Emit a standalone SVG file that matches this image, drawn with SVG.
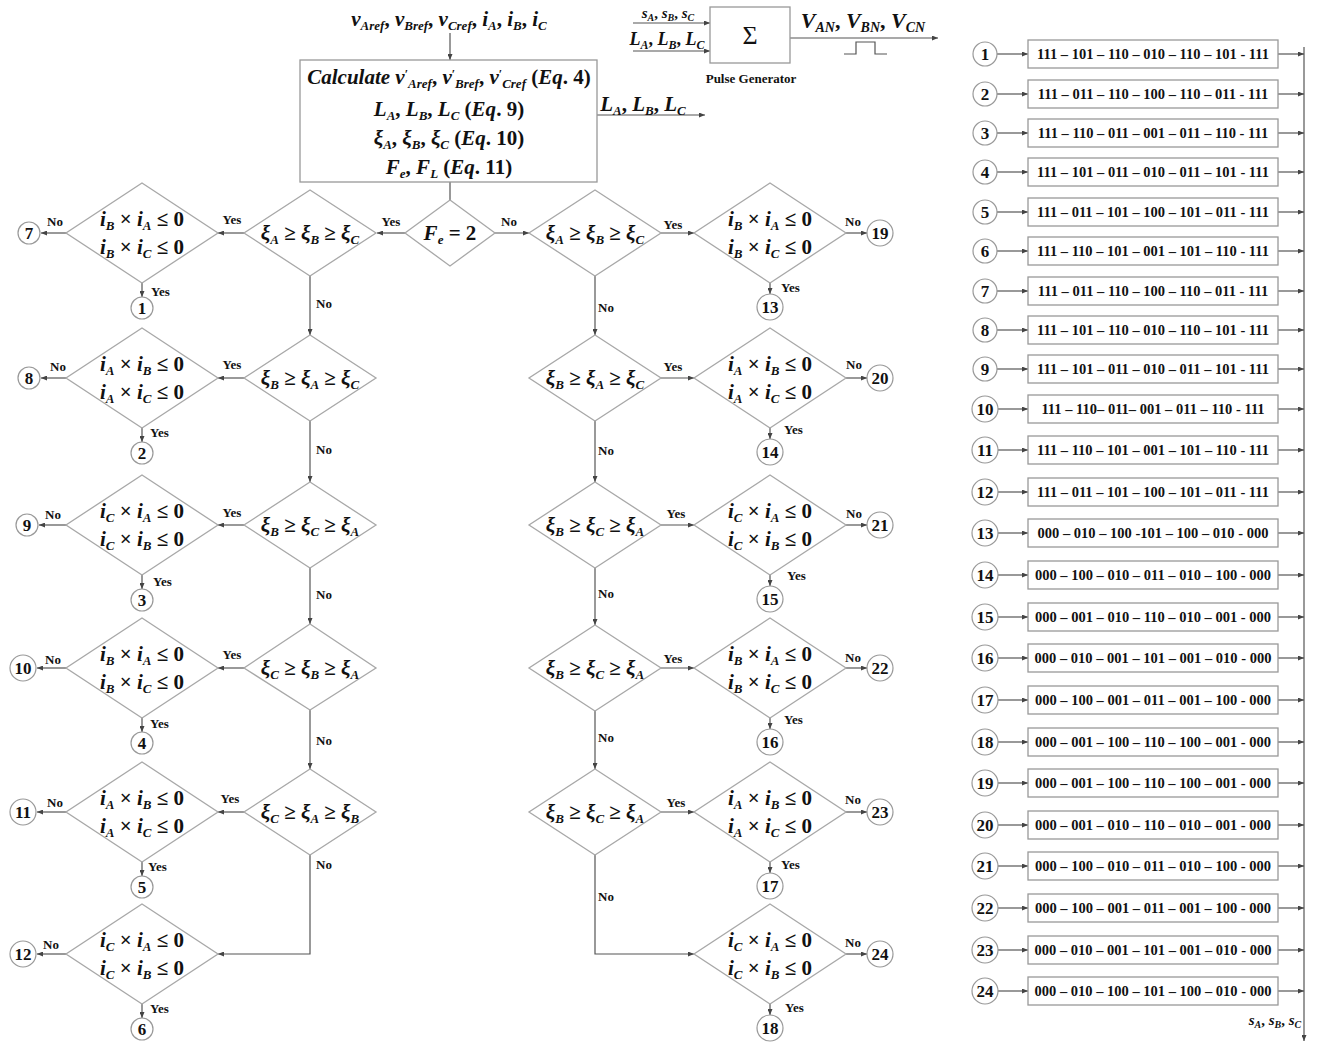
<svg xmlns="http://www.w3.org/2000/svg" width="1318" height="1045" viewBox="0 0 1318 1045">
<style>
.m{font-family:"Liberation Serif",serif;font-weight:bold;font-style:italic;font-size:21px;fill:#111}
.s{font-size:13px}
.u{font-style:normal}
.lb{font-family:"Liberation Serif",serif;font-weight:bold;font-size:13px;fill:#111}
.num{font-family:"Liberation Serif",serif;font-weight:bold;font-size:17px;fill:#111;text-anchor:middle}
.code{font-family:"Liberation Serif",serif;font-weight:bold;font-size:14.5px;fill:#111;text-anchor:middle}
.dia{fill:#fff;stroke:#a8a8a8;stroke-width:1.3}
.box{fill:#fff;stroke:#999;stroke-width:1.3}
.cir{fill:#fff;stroke:#999;stroke-width:1.2}
.ln{fill:none;stroke:#555;stroke-width:1.2}
.ar{fill:none;stroke:#555;stroke-width:1.2;marker-end:url(#ah)}
</style>
<defs>
<marker id="ah" markerWidth="6" markerHeight="5" refX="6" refY="2.5" orient="auto" markerUnits="userSpaceOnUse"><path d="M0,0 L6,2.5 L0,5 z" fill="#444"/></marker>
</defs>
<rect width="1318" height="1045" fill="#fff"/>

<g id="connectors">
<line class="ar" x1="450" y1="33" x2="450" y2="60"/>
<line class="ln" x1="450" y1="182" x2="450" y2="200"/>
<line class="ar" x1="597" y1="115" x2="705" y2="115"/>
<line class="ar" x1="633" y1="23" x2="710" y2="23"/>
<line class="ar" x1="633" y1="51" x2="710" y2="51"/>
<line class="ar" x1="790" y1="38" x2="938" y2="38"/>
<polyline class="ln" points="844,54 856,54 856,42 875,42 875,54 887,54"/>
<line class="ar" x1="405" y1="233" x2="377" y2="233"/>
<line class="ar" x1="495" y1="233" x2="529" y2="233"/>
<line class="ar" x1="310" y1="276" x2="310" y2="335"/>
<line class="ar" x1="310" y1="421" x2="310" y2="482"/>
<line class="ar" x1="310" y1="568" x2="310" y2="624"/>
<line class="ar" x1="310" y1="710" x2="310" y2="769"/>
<polyline class="ar" points="310,855 310,954 218,954"/>
<line class="ar" x1="244" y1="233" x2="218" y2="233"/>
<line class="ar" x1="244" y1="378" x2="218" y2="378"/>
<line class="ar" x1="244" y1="525" x2="218" y2="525"/>
<line class="ar" x1="244" y1="668" x2="218" y2="668"/>
<line class="ar" x1="244" y1="812" x2="218" y2="812"/>
<line class="ar" x1="66" y1="233" x2="41" y2="233"/>
<line class="ar" x1="66" y1="378" x2="41" y2="378"/>
<line class="ar" x1="66" y1="525" x2="39" y2="525"/>
<line class="ar" x1="66" y1="668" x2="37" y2="668"/>
<line class="ar" x1="66" y1="812" x2="37" y2="812"/>
<line class="ar" x1="66" y1="954" x2="37" y2="954"/>
<line class="ar" x1="142" y1="283" x2="142" y2="297"/>
<line class="ar" x1="142" y1="428" x2="142" y2="442"/>
<line class="ar" x1="142" y1="575" x2="142" y2="589"/>
<line class="ar" x1="142" y1="718" x2="142" y2="732"/>
<line class="ar" x1="142" y1="862" x2="142" y2="876"/>
<line class="ar" x1="142" y1="1004" x2="142" y2="1018"/>
<line class="ar" x1="595" y1="276" x2="595" y2="335"/>
<line class="ar" x1="595" y1="421" x2="595" y2="482"/>
<line class="ar" x1="595" y1="568" x2="595" y2="625"/>
<line class="ar" x1="595" y1="711" x2="595" y2="769"/>
<polyline class="ar" points="595,855 595,954 694,954"/>
<line class="ar" x1="661" y1="233" x2="694" y2="233"/>
<line class="ar" x1="661" y1="378" x2="694" y2="378"/>
<line class="ar" x1="661" y1="525" x2="694" y2="525"/>
<line class="ar" x1="661" y1="668" x2="694" y2="668"/>
<line class="ar" x1="661" y1="812" x2="694" y2="812"/>
<line class="ar" x1="846" y1="233" x2="867" y2="233"/>
<line class="ar" x1="846" y1="378" x2="867" y2="378"/>
<line class="ar" x1="846" y1="525" x2="867" y2="525"/>
<line class="ar" x1="846" y1="668" x2="867" y2="668"/>
<line class="ar" x1="846" y1="812" x2="867" y2="812"/>
<line class="ar" x1="846" y1="954" x2="867" y2="954"/>
<line class="ar" x1="770" y1="283" x2="770" y2="294"/>
<line class="ar" x1="770" y1="428" x2="770" y2="439"/>
<line class="ar" x1="770" y1="575" x2="770" y2="586"/>
<line class="ar" x1="770" y1="718" x2="770" y2="729"/>
<line class="ar" x1="770" y1="862" x2="770" y2="873"/>
<line class="ar" x1="770" y1="1004" x2="770" y2="1015"/>
<line class="ar" x1="1304" y1="47" x2="1304" y2="1041"/>
<g id="list-arrows">
<line class="ar" x1="997" y1="54" x2="1028" y2="54"/><line class="ar" x1="1278" y1="54" x2="1304" y2="54"/>
<line class="ar" x1="997" y1="94" x2="1028" y2="94"/><line class="ar" x1="1278" y1="94" x2="1304" y2="94"/>
<line class="ar" x1="997" y1="133" x2="1028" y2="133"/><line class="ar" x1="1278" y1="133" x2="1304" y2="133"/>
<line class="ar" x1="997" y1="172" x2="1028" y2="172"/><line class="ar" x1="1278" y1="172" x2="1304" y2="172"/>
<line class="ar" x1="997" y1="212" x2="1028" y2="212"/><line class="ar" x1="1278" y1="212" x2="1304" y2="212"/>
<line class="ar" x1="997" y1="251" x2="1028" y2="251"/><line class="ar" x1="1278" y1="251" x2="1304" y2="251"/>
<line class="ar" x1="997" y1="291" x2="1028" y2="291"/><line class="ar" x1="1278" y1="291" x2="1304" y2="291"/>
<line class="ar" x1="997" y1="330" x2="1028" y2="330"/><line class="ar" x1="1278" y1="330" x2="1304" y2="330"/>
<line class="ar" x1="997" y1="369" x2="1028" y2="369"/><line class="ar" x1="1278" y1="369" x2="1304" y2="369"/>
<line class="ar" x1="998" y1="409" x2="1028" y2="409"/><line class="ar" x1="1278" y1="409" x2="1304" y2="409"/>
<line class="ar" x1="998" y1="450" x2="1028" y2="450"/><line class="ar" x1="1278" y1="450" x2="1304" y2="450"/>
<line class="ar" x1="998" y1="492" x2="1028" y2="492"/><line class="ar" x1="1278" y1="492" x2="1304" y2="492"/>
<line class="ar" x1="998" y1="533" x2="1028" y2="533"/><line class="ar" x1="1278" y1="533" x2="1304" y2="533"/>
<line class="ar" x1="998" y1="575" x2="1028" y2="575"/><line class="ar" x1="1278" y1="575" x2="1304" y2="575"/>
<line class="ar" x1="998" y1="617" x2="1028" y2="617"/><line class="ar" x1="1278" y1="617" x2="1304" y2="617"/>
<line class="ar" x1="998" y1="658" x2="1028" y2="658"/><line class="ar" x1="1278" y1="658" x2="1304" y2="658"/>
<line class="ar" x1="998" y1="700" x2="1028" y2="700"/><line class="ar" x1="1278" y1="700" x2="1304" y2="700"/>
<line class="ar" x1="998" y1="742" x2="1028" y2="742"/><line class="ar" x1="1278" y1="742" x2="1304" y2="742"/>
<line class="ar" x1="998" y1="783" x2="1028" y2="783"/><line class="ar" x1="1278" y1="783" x2="1304" y2="783"/>
<line class="ar" x1="998" y1="825" x2="1028" y2="825"/><line class="ar" x1="1278" y1="825" x2="1304" y2="825"/>
<line class="ar" x1="998" y1="866" x2="1028" y2="866"/><line class="ar" x1="1278" y1="866" x2="1304" y2="866"/>
<line class="ar" x1="998" y1="908" x2="1028" y2="908"/><line class="ar" x1="1278" y1="908" x2="1304" y2="908"/>
<line class="ar" x1="998" y1="950" x2="1028" y2="950"/><line class="ar" x1="1278" y1="950" x2="1304" y2="950"/>
<line class="ar" x1="998" y1="991" x2="1028" y2="991"/><line class="ar" x1="1278" y1="991" x2="1304" y2="991"/>
</g>
<g id="labels" class="lb">
<text x="391" y="226" text-anchor="middle">Yes</text>
<text x="509" y="226" text-anchor="middle">No</text>
<text x="232" y="224" text-anchor="middle">Yes</text>
<text x="232" y="369" text-anchor="middle">Yes</text>
<text x="232" y="517" text-anchor="middle">Yes</text>
<text x="232" y="659" text-anchor="middle">Yes</text>
<text x="230" y="803" text-anchor="middle">Yes</text>
<text x="55" y="226" text-anchor="middle">No</text>
<text x="58" y="371" text-anchor="middle">No</text>
<text x="53" y="519" text-anchor="middle">No</text>
<text x="53" y="664" text-anchor="middle">No</text>
<text x="55" y="807" text-anchor="middle">No</text>
<text x="51" y="949" text-anchor="middle">No</text>
<text x="151" y="296">Yes</text>
<text x="150" y="437">Yes</text>
<text x="153" y="586">Yes</text>
<text x="150" y="728">Yes</text>
<text x="148" y="871">Yes</text>
<text x="150" y="1013">Yes</text>
<text x="316" y="308">No</text>
<text x="316" y="454">No</text>
<text x="316" y="599">No</text>
<text x="316" y="745">No</text>
<text x="316" y="869">No</text>
<text x="673" y="229" text-anchor="middle">Yes</text>
<text x="673" y="371" text-anchor="middle">Yes</text>
<text x="676" y="518" text-anchor="middle">Yes</text>
<text x="673" y="663" text-anchor="middle">Yes</text>
<text x="676" y="807" text-anchor="middle">Yes</text>
<text x="853" y="226" text-anchor="middle">No</text>
<text x="854" y="369" text-anchor="middle">No</text>
<text x="854" y="518" text-anchor="middle">No</text>
<text x="853" y="662" text-anchor="middle">No</text>
<text x="853" y="804" text-anchor="middle">No</text>
<text x="853" y="947" text-anchor="middle">No</text>
<text x="781" y="292">Yes</text>
<text x="784" y="434">Yes</text>
<text x="787" y="580">Yes</text>
<text x="784" y="724">Yes</text>
<text x="781" y="869">Yes</text>
<text x="785" y="1012">Yes</text>
<text x="598" y="312">No</text>
<text x="598" y="455">No</text>
<text x="598" y="598">No</text>
<text x="598" y="742">No</text>
<text x="598" y="901">No</text>
</g>
</g>

<g id="inputs">
<text class="m" x="449" y="26" text-anchor="middle">v<tspan class="s" dy="4">Aref</tspan><tspan class="u" dy="-4">, </tspan>v<tspan class="s" dy="4">Bref</tspan><tspan class="u" dy="-4">, </tspan>v<tspan class="s" dy="4">Cref</tspan><tspan class="u" dy="-4">, </tspan>i<tspan class="s" dy="4">A</tspan><tspan class="u" dy="-4">, </tspan>i<tspan class="s" dy="4">B</tspan><tspan class="u" dy="-4">, </tspan>i<tspan class="s" dy="4">C</tspan></text>
</g>

<g id="calc">
<rect class="box" x="300" y="60" width="297" height="122"/>
<text class="m" x="449" y="84" text-anchor="middle">Calculate v<tspan class="u" style="font-size:12px" dy="-6">′</tspan><tspan class="s" dy="10">Aref</tspan><tspan class="u" dy="-4">, </tspan>v<tspan class="u" style="font-size:12px" dy="-6">′</tspan><tspan class="s" dy="10">Bref</tspan><tspan class="u" dy="-4">, </tspan>v<tspan class="u" style="font-size:12px" dy="-6">′</tspan><tspan class="s" dy="10">Cref</tspan><tspan class="u" dy="-4"> (</tspan>Eq<tspan class="u">. 4)</tspan></text>
<text class="m" x="449" y="116" text-anchor="middle">L<tspan class="s" dy="4">A</tspan><tspan class="u" dy="-4">, </tspan>L<tspan class="s" dy="4">B</tspan><tspan class="u" dy="-4">, </tspan>L<tspan class="s" dy="4">C</tspan><tspan class="u" dy="-4"> (</tspan>Eq<tspan class="u">. 9)</tspan></text>
<text class="m" x="449" y="145" text-anchor="middle">ξ<tspan class="s" dy="4">A</tspan><tspan class="u" dy="-4">, </tspan>ξ<tspan class="s" dy="4">B</tspan><tspan class="u" dy="-4">, </tspan>ξ<tspan class="s" dy="4">C</tspan><tspan class="u" dy="-4"> (</tspan>Eq<tspan class="u">. 10)</tspan></text>
<text class="m" x="449" y="174" text-anchor="middle">F<tspan class="s" dy="4">e</tspan><tspan class="u" dy="-4">, </tspan>F<tspan class="s" dy="4">L</tspan><tspan class="u" dy="-4"> (</tspan>Eq<tspan class="u">. 11)</tspan></text>
</g>

<g id="lout">
<text class="m" x="643" y="111" text-anchor="middle">L<tspan class="s" dy="4">A</tspan><tspan class="u" dy="-4">, </tspan>L<tspan class="s" dy="4">B</tspan><tspan class="u" dy="-4">, </tspan>L<tspan class="s" dy="4">C</tspan></text>
</g>

<g id="pulse">
<rect class="box" x="710" y="7" width="80" height="56"/>
<text x="750" y="44" text-anchor="middle" style="font-family:'Liberation Serif',serif;font-size:26px;fill:#111">Σ</text>
<text class="m" x="668" y="18" text-anchor="middle" style="font-size:15px">s<tspan style="font-size:10px" dy="3">A</tspan><tspan class="u" dy="-3">, </tspan>s<tspan style="font-size:10px" dy="3">B</tspan><tspan class="u" dy="-3">, </tspan>s<tspan style="font-size:10px" dy="3">C</tspan></text>
<text class="m" x="667" y="45" text-anchor="middle" style="font-size:18px">L<tspan style="font-size:12px" dy="4">A</tspan><tspan class="u" dy="-4">, </tspan>L<tspan style="font-size:12px" dy="4">B</tspan><tspan class="u" dy="-4">, </tspan>L<tspan style="font-size:12px" dy="4">C</tspan></text>
<text class="m" x="863" y="28" text-anchor="middle" style="font-size:22px">V<tspan style="font-size:14px" dy="4">AN</tspan><tspan class="u" dy="-4">, </tspan>V<tspan style="font-size:14px" dy="4">BN</tspan><tspan class="u" dy="-4">, </tspan>V<tspan style="font-size:14px" dy="4">CN</tspan></text>
<text class="lb" x="751" y="83" text-anchor="middle">Pulse Generator</text>
</g>

<g id="fe">
<polygon class="dia" points="450,200 495,233 450,266 405,233"/>
<text class="m" x="450" y="240" text-anchor="middle">F<tspan class="s" dy="4">e</tspan><tspan class="u" dy="-4"> = 2</tspan></text>
</g>

<g id="lx1"><polygon class="dia" points="310,190 376,233 310,276 244,233"/>
<text class="m" x="310" y="240" text-anchor="middle">ξ<tspan class="s" dy="4">A</tspan><tspan class="u" dy="-4"> ≥ </tspan>ξ<tspan class="s" dy="4">B</tspan><tspan class="u" dy="-4"> ≥ </tspan>ξ<tspan class="s" dy="4">C</tspan></text></g>
<g id="lx2"><polygon class="dia" points="310,335 376,378 310,421 244,378"/>
<text class="m" x="310" y="385" text-anchor="middle">ξ<tspan class="s" dy="4">B</tspan><tspan class="u" dy="-4"> ≥ </tspan>ξ<tspan class="s" dy="4">A</tspan><tspan class="u" dy="-4"> ≥ </tspan>ξ<tspan class="s" dy="4">C</tspan></text></g>
<g id="lx3"><polygon class="dia" points="310,482 376,525 310,568 244,525"/>
<text class="m" x="310" y="532" text-anchor="middle">ξ<tspan class="s" dy="4">B</tspan><tspan class="u" dy="-4"> ≥ </tspan>ξ<tspan class="s" dy="4">C</tspan><tspan class="u" dy="-4"> ≥ </tspan>ξ<tspan class="s" dy="4">A</tspan></text></g>
<g id="lx4"><polygon class="dia" points="310,624 376,668 310,710 244,668"/>
<text class="m" x="310" y="675" text-anchor="middle">ξ<tspan class="s" dy="4">C</tspan><tspan class="u" dy="-4"> ≥ </tspan>ξ<tspan class="s" dy="4">B</tspan><tspan class="u" dy="-4"> ≥ </tspan>ξ<tspan class="s" dy="4">A</tspan></text></g>
<g id="lx5"><polygon class="dia" points="310,769 376,812 310,855 244,812"/>
<text class="m" x="310" y="819" text-anchor="middle">ξ<tspan class="s" dy="4">C</tspan><tspan class="u" dy="-4"> ≥ </tspan>ξ<tspan class="s" dy="4">A</tspan><tspan class="u" dy="-4"> ≥ </tspan>ξ<tspan class="s" dy="4">B</tspan></text></g>

<g id="mx1"><polygon class="dia" points="595,190 661,233 595,276 529,233"/>
<text class="m" x="595" y="240" text-anchor="middle">ξ<tspan class="s" dy="4">A</tspan><tspan class="u" dy="-4"> ≥ </tspan>ξ<tspan class="s" dy="4">B</tspan><tspan class="u" dy="-4"> ≥ </tspan>ξ<tspan class="s" dy="4">C</tspan></text></g>
<g id="mx2"><polygon class="dia" points="595,335 661,378 595,421 529,378"/>
<text class="m" x="595" y="385" text-anchor="middle">ξ<tspan class="s" dy="4">B</tspan><tspan class="u" dy="-4"> ≥ </tspan>ξ<tspan class="s" dy="4">A</tspan><tspan class="u" dy="-4"> ≥ </tspan>ξ<tspan class="s" dy="4">C</tspan></text></g>
<g id="mx3"><polygon class="dia" points="595,482 661,525 595,568 529,525"/>
<text class="m" x="595" y="532" text-anchor="middle">ξ<tspan class="s" dy="4">B</tspan><tspan class="u" dy="-4"> ≥ </tspan>ξ<tspan class="s" dy="4">C</tspan><tspan class="u" dy="-4"> ≥ </tspan>ξ<tspan class="s" dy="4">A</tspan></text></g>
<g id="mx4"><polygon class="dia" points="595,625 661,668 595,711 529,668"/>
<text class="m" x="595" y="675" text-anchor="middle">ξ<tspan class="s" dy="4">B</tspan><tspan class="u" dy="-4"> ≥ </tspan>ξ<tspan class="s" dy="4">C</tspan><tspan class="u" dy="-4"> ≥ </tspan>ξ<tspan class="s" dy="4">A</tspan></text></g>
<g id="mx5"><polygon class="dia" points="595,769 661,812 595,855 529,812"/>
<text class="m" x="595" y="819" text-anchor="middle">ξ<tspan class="s" dy="4">B</tspan><tspan class="u" dy="-4"> ≥ </tspan>ξ<tspan class="s" dy="4">C</tspan><tspan class="u" dy="-4"> ≥ </tspan>ξ<tspan class="s" dy="4">A</tspan></text></g>

<g id="lc1"><polygon class="dia" points="142,183 218,233 142,283 66,233"/>
<text class="m" x="142" y="226" text-anchor="middle">i<tspan class="s" dy="4">B</tspan><tspan class="u" dy="-4"> × </tspan>i<tspan class="s" dy="4">A</tspan><tspan class="u" dy="-4"> ≤ 0</tspan></text>
<text class="m" x="142" y="254" text-anchor="middle">i<tspan class="s" dy="4">B</tspan><tspan class="u" dy="-4"> × </tspan>i<tspan class="s" dy="4">C</tspan><tspan class="u" dy="-4"> ≤ 0</tspan></text></g>
<g id="lc2"><polygon class="dia" points="142,328 218,378 142,428 66,378"/>
<text class="m" x="142" y="371" text-anchor="middle">i<tspan class="s" dy="4">A</tspan><tspan class="u" dy="-4"> × </tspan>i<tspan class="s" dy="4">B</tspan><tspan class="u" dy="-4"> ≤ 0</tspan></text>
<text class="m" x="142" y="399" text-anchor="middle">i<tspan class="s" dy="4">A</tspan><tspan class="u" dy="-4"> × </tspan>i<tspan class="s" dy="4">C</tspan><tspan class="u" dy="-4"> ≤ 0</tspan></text></g>
<g id="lc3"><polygon class="dia" points="142,475 218,525 142,575 66,525"/>
<text class="m" x="142" y="518" text-anchor="middle">i<tspan class="s" dy="4">C</tspan><tspan class="u" dy="-4"> × </tspan>i<tspan class="s" dy="4">A</tspan><tspan class="u" dy="-4"> ≤ 0</tspan></text>
<text class="m" x="142" y="546" text-anchor="middle">i<tspan class="s" dy="4">C</tspan><tspan class="u" dy="-4"> × </tspan>i<tspan class="s" dy="4">B</tspan><tspan class="u" dy="-4"> ≤ 0</tspan></text></g>
<g id="lc4"><polygon class="dia" points="142,618 218,668 142,718 66,668"/>
<text class="m" x="142" y="661" text-anchor="middle">i<tspan class="s" dy="4">B</tspan><tspan class="u" dy="-4"> × </tspan>i<tspan class="s" dy="4">A</tspan><tspan class="u" dy="-4"> ≤ 0</tspan></text>
<text class="m" x="142" y="689" text-anchor="middle">i<tspan class="s" dy="4">B</tspan><tspan class="u" dy="-4"> × </tspan>i<tspan class="s" dy="4">C</tspan><tspan class="u" dy="-4"> ≤ 0</tspan></text></g>
<g id="lc5"><polygon class="dia" points="142,762 218,812 142,862 66,812"/>
<text class="m" x="142" y="805" text-anchor="middle">i<tspan class="s" dy="4">A</tspan><tspan class="u" dy="-4"> × </tspan>i<tspan class="s" dy="4">B</tspan><tspan class="u" dy="-4"> ≤ 0</tspan></text>
<text class="m" x="142" y="833" text-anchor="middle">i<tspan class="s" dy="4">A</tspan><tspan class="u" dy="-4"> × </tspan>i<tspan class="s" dy="4">C</tspan><tspan class="u" dy="-4"> ≤ 0</tspan></text></g>
<g id="lc6"><polygon class="dia" points="142,904 218,954 142,1004 66,954"/>
<text class="m" x="142" y="947" text-anchor="middle">i<tspan class="s" dy="4">C</tspan><tspan class="u" dy="-4"> × </tspan>i<tspan class="s" dy="4">A</tspan><tspan class="u" dy="-4"> ≤ 0</tspan></text>
<text class="m" x="142" y="975" text-anchor="middle">i<tspan class="s" dy="4">C</tspan><tspan class="u" dy="-4"> × </tspan>i<tspan class="s" dy="4">B</tspan><tspan class="u" dy="-4"> ≤ 0</tspan></text></g>

<g id="mc1"><polygon class="dia" points="770,183 846,233 770,283 694,233"/>
<text class="m" x="770" y="226" text-anchor="middle">i<tspan class="s" dy="4">B</tspan><tspan class="u" dy="-4"> × </tspan>i<tspan class="s" dy="4">A</tspan><tspan class="u" dy="-4"> ≤ 0</tspan></text>
<text class="m" x="770" y="254" text-anchor="middle">i<tspan class="s" dy="4">B</tspan><tspan class="u" dy="-4"> × </tspan>i<tspan class="s" dy="4">C</tspan><tspan class="u" dy="-4"> ≤ 0</tspan></text></g>
<g id="mc2"><polygon class="dia" points="770,328 846,378 770,428 694,378"/>
<text class="m" x="770" y="371" text-anchor="middle">i<tspan class="s" dy="4">A</tspan><tspan class="u" dy="-4"> × </tspan>i<tspan class="s" dy="4">B</tspan><tspan class="u" dy="-4"> ≤ 0</tspan></text>
<text class="m" x="770" y="399" text-anchor="middle">i<tspan class="s" dy="4">A</tspan><tspan class="u" dy="-4"> × </tspan>i<tspan class="s" dy="4">C</tspan><tspan class="u" dy="-4"> ≤ 0</tspan></text></g>
<g id="mc3"><polygon class="dia" points="770,475 846,525 770,575 694,525"/>
<text class="m" x="770" y="518" text-anchor="middle">i<tspan class="s" dy="4">C</tspan><tspan class="u" dy="-4"> × </tspan>i<tspan class="s" dy="4">A</tspan><tspan class="u" dy="-4"> ≤ 0</tspan></text>
<text class="m" x="770" y="546" text-anchor="middle">i<tspan class="s" dy="4">C</tspan><tspan class="u" dy="-4"> × </tspan>i<tspan class="s" dy="4">B</tspan><tspan class="u" dy="-4"> ≤ 0</tspan></text></g>
<g id="mc4"><polygon class="dia" points="770,618 846,668 770,718 694,668"/>
<text class="m" x="770" y="661" text-anchor="middle">i<tspan class="s" dy="4">B</tspan><tspan class="u" dy="-4"> × </tspan>i<tspan class="s" dy="4">A</tspan><tspan class="u" dy="-4"> ≤ 0</tspan></text>
<text class="m" x="770" y="689" text-anchor="middle">i<tspan class="s" dy="4">B</tspan><tspan class="u" dy="-4"> × </tspan>i<tspan class="s" dy="4">C</tspan><tspan class="u" dy="-4"> ≤ 0</tspan></text></g>
<g id="mc5"><polygon class="dia" points="770,762 846,812 770,862 694,812"/>
<text class="m" x="770" y="805" text-anchor="middle">i<tspan class="s" dy="4">A</tspan><tspan class="u" dy="-4"> × </tspan>i<tspan class="s" dy="4">B</tspan><tspan class="u" dy="-4"> ≤ 0</tspan></text>
<text class="m" x="770" y="833" text-anchor="middle">i<tspan class="s" dy="4">A</tspan><tspan class="u" dy="-4"> × </tspan>i<tspan class="s" dy="4">C</tspan><tspan class="u" dy="-4"> ≤ 0</tspan></text></g>
<g id="mc6"><polygon class="dia" points="770,904 846,954 770,1004 694,954"/>
<text class="m" x="770" y="947" text-anchor="middle">i<tspan class="s" dy="4">C</tspan><tspan class="u" dy="-4"> × </tspan>i<tspan class="s" dy="4">A</tspan><tspan class="u" dy="-4"> ≤ 0</tspan></text>
<text class="m" x="770" y="975" text-anchor="middle">i<tspan class="s" dy="4">C</tspan><tspan class="u" dy="-4"> × </tspan>i<tspan class="s" dy="4">B</tspan><tspan class="u" dy="-4"> ≤ 0</tspan></text></g>

<g id="c7"><circle class="cir" cx="29" cy="233" r="11"/><text class="num" x="29" y="239">7</text></g>
<g id="c8"><circle class="cir" cx="29" cy="378" r="11"/><text class="num" x="29" y="384">8</text></g>
<g id="c9"><circle class="cir" cx="27" cy="525" r="11"/><text class="num" x="27" y="531">9</text></g>
<g id="c10"><circle class="cir" cx="23" cy="668" r="13"/><text class="num" x="23" y="674">10</text></g>
<g id="c11"><circle class="cir" cx="23" cy="812" r="13"/><text class="num" x="23" y="818">11</text></g>
<g id="c12"><circle class="cir" cx="23" cy="954" r="13"/><text class="num" x="23" y="960">12</text></g>
<g id="c1"><circle class="cir" cx="142" cy="308" r="11"/><text class="num" x="142" y="314">1</text></g>
<g id="c2"><circle class="cir" cx="142" cy="453" r="11"/><text class="num" x="142" y="459">2</text></g>
<g id="c3"><circle class="cir" cx="142" cy="600" r="11"/><text class="num" x="142" y="606">3</text></g>
<g id="c4"><circle class="cir" cx="142" cy="743" r="11"/><text class="num" x="142" y="749">4</text></g>
<g id="c5"><circle class="cir" cx="142" cy="887" r="11"/><text class="num" x="142" y="893">5</text></g>
<g id="c6"><circle class="cir" cx="142" cy="1029" r="11"/><text class="num" x="142" y="1035">6</text></g>
<g id="c19"><circle class="cir" cx="880" cy="233" r="13"/><text class="num" x="880" y="239">19</text></g>
<g id="c20"><circle class="cir" cx="880" cy="378" r="13"/><text class="num" x="880" y="384">20</text></g>
<g id="c21"><circle class="cir" cx="880" cy="525" r="13"/><text class="num" x="880" y="531">21</text></g>
<g id="c22"><circle class="cir" cx="880" cy="668" r="13"/><text class="num" x="880" y="674">22</text></g>
<g id="c23"><circle class="cir" cx="880" cy="812" r="13"/><text class="num" x="880" y="818">23</text></g>
<g id="c24"><circle class="cir" cx="880" cy="954" r="13"/><text class="num" x="880" y="960">24</text></g>
<g id="c13"><circle class="cir" cx="770" cy="307" r="13"/><text class="num" x="770" y="313">13</text></g>
<g id="c14"><circle class="cir" cx="770" cy="452" r="13"/><text class="num" x="770" y="458">14</text></g>
<g id="c15"><circle class="cir" cx="770" cy="599" r="13"/><text class="num" x="770" y="605">15</text></g>
<g id="c16"><circle class="cir" cx="770" cy="742" r="13"/><text class="num" x="770" y="748">16</text></g>
<g id="c17"><circle class="cir" cx="770" cy="886" r="13"/><text class="num" x="770" y="892">17</text></g>
<g id="c18"><circle class="cir" cx="770" cy="1028" r="13"/><text class="num" x="770" y="1034">18</text></g>

<g id="r1"><circle class="cir" cx="985" cy="54" r="12"/><text class="num" x="985" y="60">1</text><rect class="box" x="1028" y="40" width="250" height="28"/><text class="code" x="1153" y="59">111 – 101 – 110 – 010 – 110 – 101 - 111</text></g>
<g id="r2"><circle class="cir" cx="985" cy="94" r="12"/><text class="num" x="985" y="100">2</text><rect class="box" x="1028" y="80" width="250" height="28"/><text class="code" x="1153" y="99">111 – 011 – 110 – 100 – 110 – 011 - 111</text></g>
<g id="r3"><circle class="cir" cx="985" cy="133" r="12"/><text class="num" x="985" y="139">3</text><rect class="box" x="1028" y="119" width="250" height="28"/><text class="code" x="1153" y="138">111 – 110 – 011 – 001 – 011 – 110 - 111</text></g>
<g id="r4"><circle class="cir" cx="985" cy="172" r="12"/><text class="num" x="985" y="178">4</text><rect class="box" x="1028" y="158" width="250" height="28"/><text class="code" x="1153" y="177">111 – 101 – 011 – 010 – 011 – 101 - 111</text></g>
<g id="r5"><circle class="cir" cx="985" cy="212" r="12"/><text class="num" x="985" y="218">5</text><rect class="box" x="1028" y="198" width="250" height="28"/><text class="code" x="1153" y="217">111 – 011 – 101 – 100 – 101 – 011 - 111</text></g>
<g id="r6"><circle class="cir" cx="985" cy="251" r="12"/><text class="num" x="985" y="257">6</text><rect class="box" x="1028" y="237" width="250" height="28"/><text class="code" x="1153" y="256">111 – 110 – 101 – 001 – 101 – 110 - 111</text></g>
<g id="r7"><circle class="cir" cx="985" cy="291" r="12"/><text class="num" x="985" y="297">7</text><rect class="box" x="1028" y="277" width="250" height="28"/><text class="code" x="1153" y="296">111 – 011 – 110 – 100 – 110 – 011 - 111</text></g>
<g id="r8"><circle class="cir" cx="985" cy="330" r="12"/><text class="num" x="985" y="336">8</text><rect class="box" x="1028" y="316" width="250" height="28"/><text class="code" x="1153" y="335">111 – 101 – 110 – 010 – 110 – 101 - 111</text></g>
<g id="r9"><circle class="cir" cx="985" cy="369" r="12"/><text class="num" x="985" y="375">9</text><rect class="box" x="1028" y="355" width="250" height="28"/><text class="code" x="1153" y="374">111 – 101 – 011 – 010 – 011 – 101 - 111</text></g>
<g id="r10"><circle class="cir" cx="985" cy="409" r="13"/><text class="num" x="985" y="415">10</text><rect class="box" x="1028" y="395" width="250" height="28"/><text class="code" x="1153" y="414">111 – 110– 011– 001 – 011 – 110 - 111</text></g>
<g id="r11"><circle class="cir" cx="985" cy="450" r="13"/><text class="num" x="985" y="456">11</text><rect class="box" x="1028" y="436" width="250" height="28"/><text class="code" x="1153" y="455">111 – 110 – 101 – 001 – 101 – 110 - 111</text></g>
<g id="r12"><circle class="cir" cx="985" cy="492" r="13"/><text class="num" x="985" y="498">12</text><rect class="box" x="1028" y="478" width="250" height="28"/><text class="code" x="1153" y="497">111 – 011 – 101 – 100 – 101 – 011 - 111</text></g>
<g id="r13"><circle class="cir" cx="985" cy="533" r="13"/><text class="num" x="985" y="539">13</text><rect class="box" x="1028" y="519" width="250" height="28"/><text class="code" x="1153" y="538">000 – 010 – 100 -101 – 100 – 010 - 000</text></g>
<g id="r14"><circle class="cir" cx="985" cy="575" r="13"/><text class="num" x="985" y="581">14</text><rect class="box" x="1028" y="561" width="250" height="28"/><text class="code" x="1153" y="580">000 – 100 – 010 – 011 – 010 – 100 - 000</text></g>
<g id="r15"><circle class="cir" cx="985" cy="617" r="13"/><text class="num" x="985" y="623">15</text><rect class="box" x="1028" y="603" width="250" height="28"/><text class="code" x="1153" y="622">000 – 001 – 010 – 110 – 010 – 001 - 000</text></g>
<g id="r16"><circle class="cir" cx="985" cy="658" r="13"/><text class="num" x="985" y="664">16</text><rect class="box" x="1028" y="644" width="250" height="28"/><text class="code" x="1153" y="663">000 – 010 – 001 – 101 – 001 – 010 - 000</text></g>
<g id="r17"><circle class="cir" cx="985" cy="700" r="13"/><text class="num" x="985" y="706">17</text><rect class="box" x="1028" y="686" width="250" height="28"/><text class="code" x="1153" y="705">000 – 100 – 001 – 011 – 001 – 100 - 000</text></g>
<g id="r18"><circle class="cir" cx="985" cy="742" r="13"/><text class="num" x="985" y="748">18</text><rect class="box" x="1028" y="728" width="250" height="28"/><text class="code" x="1153" y="747">000 – 001 – 100 – 110 – 100 – 001 - 000</text></g>
<g id="r19"><circle class="cir" cx="985" cy="783" r="13"/><text class="num" x="985" y="789">19</text><rect class="box" x="1028" y="769" width="250" height="28"/><text class="code" x="1153" y="788">000 – 001 – 100 – 110 – 100 – 001 - 000</text></g>
<g id="r20"><circle class="cir" cx="985" cy="825" r="13"/><text class="num" x="985" y="831">20</text><rect class="box" x="1028" y="811" width="250" height="28"/><text class="code" x="1153" y="830">000 – 001 – 010 – 110 – 010 – 001 - 000</text></g>
<g id="r21"><circle class="cir" cx="985" cy="866" r="13"/><text class="num" x="985" y="872">21</text><rect class="box" x="1028" y="852" width="250" height="28"/><text class="code" x="1153" y="871">000 – 100 – 010 – 011 – 010 – 100 - 000</text></g>
<g id="r22"><circle class="cir" cx="985" cy="908" r="13"/><text class="num" x="985" y="914">22</text><rect class="box" x="1028" y="894" width="250" height="28"/><text class="code" x="1153" y="913">000 – 100 – 001 – 011 – 001 – 100 - 000</text></g>
<g id="r23"><circle class="cir" cx="985" cy="950" r="13"/><text class="num" x="985" y="956">23</text><rect class="box" x="1028" y="936" width="250" height="28"/><text class="code" x="1153" y="955">000 – 010 – 001 – 101 – 001 – 010 - 000</text></g>
<g id="r24"><circle class="cir" cx="985" cy="991" r="13"/><text class="num" x="985" y="997">24</text><rect class="box" x="1028" y="977" width="250" height="28"/><text class="code" x="1153" y="996">000 – 010 – 100 – 101 – 100 – 010 - 000</text></g>

<g id="sout">
<text class="m" x="1275" y="1025" text-anchor="middle" style="font-size:15px">s<tspan style="font-size:10px" dy="3">A</tspan><tspan class="u" dy="-3">, </tspan>s<tspan style="font-size:10px" dy="3">B</tspan><tspan class="u" dy="-3">, </tspan>s<tspan style="font-size:10px" dy="3">C</tspan></text>
</g>
</svg>
